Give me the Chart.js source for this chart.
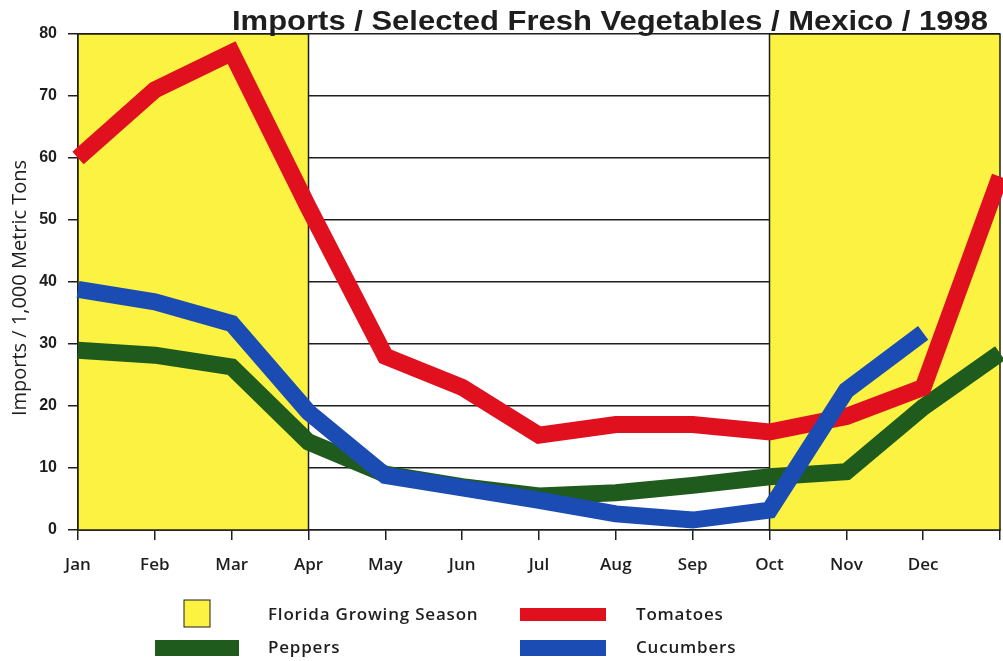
<!DOCTYPE html>
<html lang="en">
<head>
    <meta charset="utf-8" />
    <title>Imports / Selected Fresh Vegetables / Mexico / 1998</title>
    <script src="https://cdn.jsdelivr.net/npm/chart.js@4.4.1/dist/chart.umd.min.js"></script>
    <style>
        html, body { margin: 0; padding: 0; background: #fff; }
        #wrap { width: 1003px; height: 661px; position: relative; }
    </style>
</head>
<body>
    <div id="wrap"><canvas id="chart" width="1003" height="661"></canvas></div>
    <script>
        // months on the x axis; the last point is the following January (no label)
        const months = ['Jan', 'Feb', 'Mar', 'Apr', 'May', 'Jun', 'Jul', 'Aug', 'Sep', 'Oct', 'Nov', 'Dec', ''];
        const yTicks = [0, 10, 20, 30, 40, 50, 60, 70, 80];

        // imports, 1,000 metric tons
        const tomatoes  = [60, 71, 77, 52, 28, 23, 15.3, 17, 17, 15.8, 18.3, 23, 57];
        const cucumbers = [38.8, 36.8, 33.3, 19, 8.8, 6.8, 4.8, 2.6, 1.6, 3.2, 22.5, 31.8, null];
        const peppers   = [29, 28.2, 26.3, 14.2, 9, 7, 5.5, 6, 7.2, 8.6, 9.4, 19.8, 28.5];

        // Florida growing season, as [first month index, last month index]
        const floridaSeason = [[0, 3], [9, 12]];

        const title = 'Imports / Selected Fresh Vegetables / Mexico / 1998';
        const yTitle = 'Imports / 1,000 Metric Tons';
        const seasonLabel = 'Florida Growing Season';

        const RED = '#e0101e';
        const BLUE = '#1b4cb4';
        const GREEN = '#1f5b1c';
        const YELLOW = '#fcf242';
        const INK = '#1e1e1e';

        // yellow season boxes go between the grid and the lines
        const seasonBoxes = {
            id: 'seasonBoxes',
            beforeDatasetsDraw(chart) {
                const { ctx, scales: { x, y } } = chart;
                const top = y.getPixelForValue(yTicks[yTicks.length - 1]);
                const bottom = y.getPixelForValue(0);
                ctx.save();
                floridaSeason.forEach(([a, b]) => {
                    const left = x.getPixelForValue(a);
                    const right = x.getPixelForValue(b);
                    ctx.fillStyle = YELLOW;
                    ctx.fillRect(left, top, right - left, bottom - top);
                    ctx.strokeStyle = INK;
                    ctx.lineWidth = 1.5;
                    ctx.strokeRect(left, top, right - left, bottom - top);
                });
                ctx.restore();
            }
        };

        // title, y-axis title and the 2x2 legend
        const texts = {
            id: 'texts',
            afterDraw(chart) {
                const ctx = chart.ctx;
                ctx.save();
                ctx.fillStyle = INK;

                // title is stretched a little to the width it has in the original
                ctx.font = 'bold 28px "Liberation Sans", Arial, sans-serif';
                ctx.textAlign = 'left';
                ctx.textBaseline = 'alphabetic';
                const tw = ctx.measureText(title).width;
                ctx.save();
                ctx.translate(232, 30);
                ctx.scale(756 / tw, 1);
                ctx.fillText(title, 0, 0);
                ctx.restore();

                ctx.save();
                ctx.translate(20, 288);
                ctx.rotate(-Math.PI / 2);
                ctx.font = '500 20px "Open Sans", sans-serif';
                ctx.textAlign = 'center';
                ctx.textBaseline = 'middle';
                ctx.fillText(yTitle, 0, 0);
                ctx.restore();

                const ds = chart.data.datasets;
                const byLabel = l => ds.find(d => d.label === l);

                ctx.fillStyle = YELLOW;
                ctx.fillRect(184, 600, 26, 27);
                ctx.strokeStyle = INK;
                ctx.lineWidth = 1;
                ctx.strokeRect(184, 600, 26, 27);

                ctx.fillStyle = byLabel('Tomatoes').borderColor;
                ctx.fillRect(520, 608, 86, 13);
                ctx.fillStyle = byLabel('Peppers').borderColor;
                ctx.fillRect(155, 640, 84, 16);
                ctx.fillStyle = byLabel('Cucumbers').borderColor;
                ctx.fillRect(520, 640, 86, 16);

                ctx.fillStyle = INK;
                ctx.font = '600 17px "Open Sans", sans-serif';
                ctx.letterSpacing = '0.8px';
                ctx.textAlign = 'left';
                ctx.textBaseline = 'middle';
                ctx.fillText(seasonLabel, 268, 615);
                ctx.fillText('Tomatoes', 636, 615);
                ctx.fillText('Peppers', 268, 648);
                ctx.fillText('Cucumbers', 636, 648);
                ctx.restore();
            }
        };

        const lineStyle = {
            borderWidth: 17,
            pointRadius: 0,
            tension: 0,
            fill: false,
            borderJoinStyle: 'miter',
            borderCapStyle: 'butt',
            spanGaps: false
        };

        new Chart(document.getElementById('chart'), {
            type: 'line',
            data: {
                labels: months,
                datasets: [
                    { label: 'Cucumbers', data: cucumbers, borderColor: BLUE, backgroundColor: BLUE, order: 0, ...lineStyle },
                    { label: 'Tomatoes', data: tomatoes, borderColor: RED, backgroundColor: RED, order: 1, ...lineStyle },
                    { label: 'Peppers', data: peppers, borderColor: GREEN, backgroundColor: GREEN, order: 2, ...lineStyle }
                ]
            },
            options: {
                responsive: false,
                animation: false,
                events: [],
                layout: { padding: { top: 34, right: 3, left: 0, bottom: 0 } },
                plugins: {
                    legend: { display: false },
                    title: { display: false },
                    tooltip: { enabled: false }
                },
                scales: {
                    x: {
                        offset: false,
                        afterFit(scale) {
                            scale.height = 131;
                            scale.paddingLeft = 0;
                            scale.paddingRight = 0;
                        },
                        grid: {
                            drawOnChartArea: false,
                            drawTicks: true,
                            tickLength: 10,
                            color: INK,
                            lineWidth: 1.5
                        },
                        border: { display: true, color: INK, width: 1.5 },
                        ticks: {
                            autoSkip: false,
                            maxRotation: 0,
                            padding: 15,
                            color: INK,
                            font: { family: '"Open Sans", sans-serif', size: 17, weight: '600' }
                        }
                    },
                    y: {
                        min: 0,
                        max: 80,
                        afterFit(scale) { scale.width = 78; },
                        afterBuildTicks(scale) { scale.ticks = yTicks.map(v => ({ value: v })); },
                        grid: {
                            drawOnChartArea: true,
                            drawTicks: true,
                            tickLength: 10,
                            color: INK,
                            lineWidth: 1.5
                        },
                        border: { display: true, color: INK, width: 1.5 },
                        ticks: {
                            padding: 11,
                            color: INK,
                            font: { family: '"Liberation Sans", Arial, sans-serif', size: 16, weight: 'bold' }
                        }
                    }
                }
            },
            plugins: [seasonBoxes, texts]
        });
    </script>
</body>
</html>
